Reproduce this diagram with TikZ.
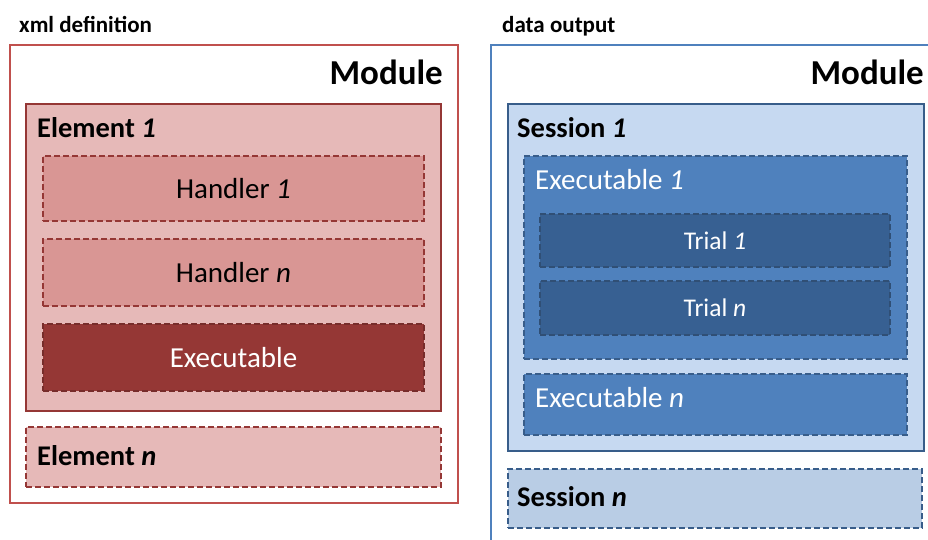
\documentclass[tikz,border=0pt]{standalone}
\usepackage{fontspec}
\setmainfont{Carlito}
\definecolor{redline}{HTML}{C0504D}
\definecolor{reddark}{HTML}{953735}
\definecolor{redlight}{HTML}{E6B9B8}
\definecolor{redmid}{HTML}{D99694}
\definecolor{blueline}{HTML}{4F81BD}
\definecolor{bluedark}{HTML}{385D8A}
\definecolor{bluelight}{HTML}{C6D9F1}
\definecolor{bluemid}{HTML}{4F81BD}
\definecolor{bluedeep}{HTML}{376092}
\definecolor{bluepale}{HTML}{B9CDE5}
\tikzset{
  frame/.style={draw, line width=2pt, anchor=north west, inner sep=0pt},
  solidbox/.style={draw, line width=2.4pt, anchor=north west, inner sep=0pt},
  dashbox/.style={draw, line width=2pt, dash pattern=on 6pt off 3pt, anchor=north west, inner sep=0pt},
  caption/.style={font=\fontsize{23}{25}\selectfont\bfseries, anchor=base west, inner sep=0pt},
  moduletext/.style={font=\fontsize{35}{37}\selectfont\bfseries, anchor=east, inner sep=0pt},
  titletext/.style={font=\fontsize{28.5}{30}\selectfont\bfseries, anchor=west, inner sep=0pt},
  bodytext/.style={font=\fontsize{29}{31}\selectfont, inner sep=0pt},
  trialtext/.style={font=\fontsize{25.5}{27}\selectfont, text=white, inner sep=0pt},
}
\begin{document}
\begin{tikzpicture}[x=1pt, y=-1pt]
\clip (0,0) rectangle (928,539);
\fill[white] (0,0) rectangle (928,539);

% ---- xml definition ----
\node[caption] (capL) at (19,32) {xml definition};
\node[frame, draw=redline, fill=white, minimum width=448pt, minimum height=458pt] (modL) at (9,44) {};
\node[moduletext] (modLt) at (443,72) {Module};

\node[solidbox, draw=reddark, fill=redlight, minimum width=415pt, minimum height=307pt] (el1) at (25,103) {};
\node[titletext] (el1t) at (37,128) {Element \textit{1}};

\node[dashbox, draw=reddark, fill=redmid, minimum width=381pt, minimum height=65pt] (h1) at (42,155) {};
\node[bodytext] (h1t) at (h1.center) {Handler \textit{1}};

\node[dashbox, draw=reddark, fill=redmid, minimum width=381pt, minimum height=67pt] (hn) at (42,238) {};
\node[bodytext] (hnt) at (hn.center) {Handler \textit{n}};

\node[dashbox, draw=reddark!80!black, fill=reddark, minimum width=381pt, minimum height=67pt] (ex) at (42,323) {};
\node[bodytext, text=white] (ext) at (ex.center) {Executable};

\node[dashbox, draw=reddark, fill=redlight, minimum width=415pt, minimum height=60pt] (eln) at (25,426) {};
\node[titletext] (elnt) at (37,456) {Element \textit{n}};

% ---- data output ----
\node[caption] (capR) at (502,32) {data output};
\node[frame, draw=blueline, fill=white, minimum width=460pt, minimum height=520pt] (modR) at (490,44) {};
\node[moduletext] (modRt) at (924,72) {Module};

\node[solidbox, draw=bluedark, fill=bluelight, minimum width=416pt, minimum height=347pt] (s1) at (507,103) {};
\node[titletext] (s1t) at (517,128) {Session \textit{1}};

\node[dashbox, draw=bluedark, fill=bluemid, minimum width=383pt, minimum height=203pt] (e1) at (523,155) {};
\node[bodytext, text=white, anchor=west] (e1t) at (535,180) {Executable \textit{1}};

\node[dashbox, draw=bluedark!85!black, fill=bluedeep, minimum width=350pt, minimum height=53pt] (t1) at (539,213) {};
\node[trialtext] (t1t) at (t1.center) {Trial \textit{1}};

\node[dashbox, draw=bluedark!85!black, fill=bluedeep, minimum width=350pt, minimum height=54pt] (tn) at (539,280) {};
\node[trialtext] (tnt) at (tn.center) {Trial \textit{n}};

\node[dashbox, draw=bluedark, fill=bluemid, minimum width=383pt, minimum height=61pt] (en) at (523,373) {};
\node[bodytext, text=white, anchor=west] (ent) at (535,398) {Executable \textit{n}};

\node[dashbox, draw=bluedark, fill=bluepale, minimum width=414pt, minimum height=59pt] (sn) at (507,468) {};
\node[titletext] (snt) at (517,497) {Session \textit{n}};
\end{tikzpicture}
\end{document}
